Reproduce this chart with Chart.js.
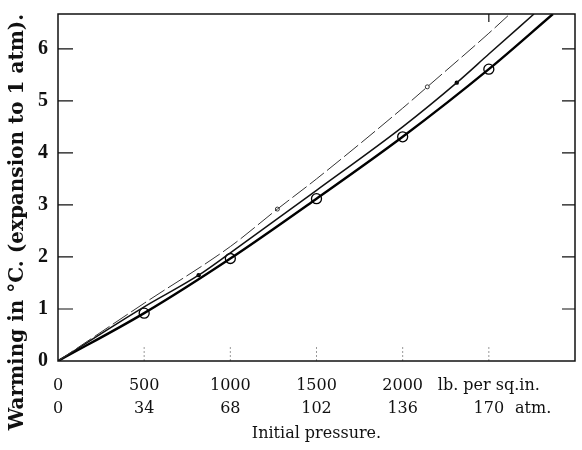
<!DOCTYPE html>
<html>
<head>
<meta charset="utf-8">
<script src="https://cdn.jsdelivr.net/npm/chart.js@4.4.0/dist/chart.umd.min.js"></script>
<style>
  html, body { margin: 0; padding: 0; background: #fff; }
  #wrap { width: 582px; height: 450px; }
</style>
</head>
<body>
<div id="wrap"><canvas id="myChart" width="582" height="450"></canvas></div>
<script>
"use strict";

// tick labels
var lbTicks = [0, 500, 1000, 1500, 2000];
var atmTicks = [0, 34, 68, 102, 136, 170];
var yTicks = [0, 1, 2, 3, 4, 5, 6];
var lbUnit = "lb. per sq.in.";
var lbUnitAt = 2500;          // printed in place of the 2500 label
var atmUnit = "atm.";
var atmUnitAt = 187.5;
var lbPerAtm = 500 / 34;

// lower curve (open circles)
var lowerX = [0, 500, 1000, 1500, 2000, 2500, 2872];
var lowerY = [0, 0.92, 1.97, 3.12, 4.31, 5.61, 6.67];
var circleX = [500, 1000, 1500, 2000, 2500];
var circleY = [0.92, 1.97, 3.12, 4.31, 5.61];

// middle curve (small dots)
var middleX = [0, 500, 816, 1000, 1500, 2000, 2314, 2500, 2762];
var middleY = [0, 1.04, 1.65, 2.08, 3.28, 4.5, 5.35, 5.9, 6.67];
var dotX = [816, 2314];
var dotY = [1.65, 5.35];

// upper curve (tiny rings)
var upperX = [0, 500, 1000, 1273, 1500, 2000, 2143, 2500, 2622];
var upperY = [0, 1.11, 2.2, 2.92, 3.5, 4.86, 5.27, 6.3, 6.67];
var ringX = [1273, 2143];
var ringY = [2.92, 5.27];

function pts(xs, ys) {
  return xs.map(function (x, i) { return { x: x, y: ys[i] }; });
}

var serif = "'DejaVu Serif', serif";

function noPad(s) {
  s.paddingTop = 0; s.paddingBottom = 0;
  s.paddingLeft = 0; s.paddingRight = 0;
}

var framePlugin = {
  id: "frame",
  afterDatasetsDraw: function (chart) {
    var ctx = chart.ctx;
    var a = chart.chartArea;
    var xs = chart.scales.x;
    var ys = chart.scales.y;
    ctx.save();
    // inward ticks left / right
    ctx.strokeStyle = "#111";
    ctx.lineWidth = 1.2;
    yTicks.forEach(function (v) {
      if (v === 0) return;
      var py = ys.getPixelForValue(v);
      ctx.beginPath();
      ctx.moveTo(a.left, py); ctx.lineTo(a.left + 15, py);
      ctx.moveTo(a.right, py); ctx.lineTo(a.right - 13, py);
      ctx.stroke();
    });
    // top tick
    var pt = xs.getPixelForValue(lbUnitAt);
    ctx.beginPath();
    ctx.moveTo(pt, a.top); ctx.lineTo(pt, a.top + 8);
    ctx.stroke();
    // faint dotted bottom ticks
    ctx.strokeStyle = "#999";
    ctx.lineWidth = 1;
    ctx.setLineDash([2, 2]);
    lbTicks.concat([lbUnitAt]).forEach(function (v) {
      if (v === 0) return;
      var px = xs.getPixelForValue(v);
      ctx.beginPath();
      ctx.moveTo(px, a.bottom); ctx.lineTo(px, a.bottom - 15);
      ctx.stroke();
    });
    ctx.setLineDash([]);
    // frame
    ctx.strokeStyle = "#111";
    ctx.lineWidth = 1.5;
    ctx.strokeRect(a.left, a.top, a.right - a.left, a.bottom - a.top);
    // y title
    ctx.translate(18, 222);
    ctx.rotate(-Math.PI / 2);
    ctx.fillStyle = "#111";
    ctx.font = "bold 20px " + serif;
    ctx.textAlign = "center";
    ctx.textBaseline = "middle";
    ctx.fillText("Warming in \u00B0C. (expansion to 1 atm).", 0, 0);
    ctx.restore();
  }
};

var ctx = document.getElementById("myChart");
new Chart(ctx, {
  type: "scatter",
  data: {
    datasets: [
      {
        data: pts(upperX, upperY), showLine: true, borderColor: "#333",
        borderWidth: 1, borderDash: [18, 4], pointRadius: 0,
        cubicInterpolationMode: "monotone"
      },
      {
        data: pts(middleX, middleY), showLine: true, borderColor: "#111",
        borderWidth: 1.5, pointRadius: 0, cubicInterpolationMode: "monotone"
      },
      {
        data: pts(lowerX, lowerY), showLine: true, borderColor: "#000",
        borderWidth: 2.4, pointRadius: 0, cubicInterpolationMode: "monotone"
      },
      {
        data: pts(ringX, ringY), showLine: false, pointRadius: 2,
        pointBackgroundColor: "#fff", pointBorderColor: "#333", pointBorderWidth: 1
      },
      {
        data: pts(dotX, dotY), showLine: false, pointRadius: 2.2,
        pointBackgroundColor: "#000", pointBorderColor: "#000", pointBorderWidth: 0
      },
      {
        data: pts(circleX, circleY), showLine: false, pointRadius: 5,
        pointBackgroundColor: "#fff", pointBorderColor: "#000", pointBorderWidth: 1.3
      }
    ]
  },
  options: {
    responsive: false,
    animation: false,
    layout: { padding: { top: 14, right: 7, left: 0, bottom: 0 } },
    plugins: { legend: { display: false }, tooltip: { enabled: false } },
    scales: {
      x: {
        type: "linear", position: "bottom", min: 0, max: 3000,
        afterBuildTicks: function (s) {
          s.ticks = lbTicks.concat([lbUnitAt]).map(function (v) { return { value: v }; });
        },
        afterFit: function (s) { s.height = 34; noPad(s); },
        grid: { display: false, drawTicks: false },
        border: { display: false },
        ticks: {
          autoSkip: false, maxRotation: 0, padding: 15, color: "#111",
          font: { family: serif, size: 16 },
          callback: function (v) { return v === lbUnitAt ? lbUnit : String(v); }
        }
      },
      x2: {
        type: "linear", position: "bottom", min: 0, max: 3000 / lbPerAtm,
        afterBuildTicks: function (s) {
          s.ticks = atmTicks.concat([atmUnitAt]).map(function (v) { return { value: v }; });
        },
        afterFit: function (s) { s.height = 55; noPad(s); },
        grid: { display: false, drawTicks: false },
        border: { display: false },
        ticks: {
          autoSkip: false, maxRotation: 0, padding: 4, color: "#111",
          font: { family: serif, size: 16 },
          callback: function (v) { return v === atmUnitAt ? atmUnit : String(v); }
        },
        title: {
          display: true, text: "Initial pressure.", color: "#111",
          font: { family: serif, size: 16 }, padding: { top: 0, bottom: 7 }
        }
      },
      y: {
        type: "linear", min: 0, max: 6.67,
        afterBuildTicks: function (s) {
          s.ticks = yTicks.map(function (v) { return { value: v }; });
        },
        afterFit: function (s) { s.width = 58; noPad(s); },
        grid: { display: false, drawTicks: false },
        border: { display: false },
        ticks: {
          padding: 10, color: "#111",
          font: { family: "'Liberation Serif', serif", size: 20, weight: "bold" }
        }
      }
    }
  },
  plugins: [framePlugin]
});
</script>
</body>
</html>
